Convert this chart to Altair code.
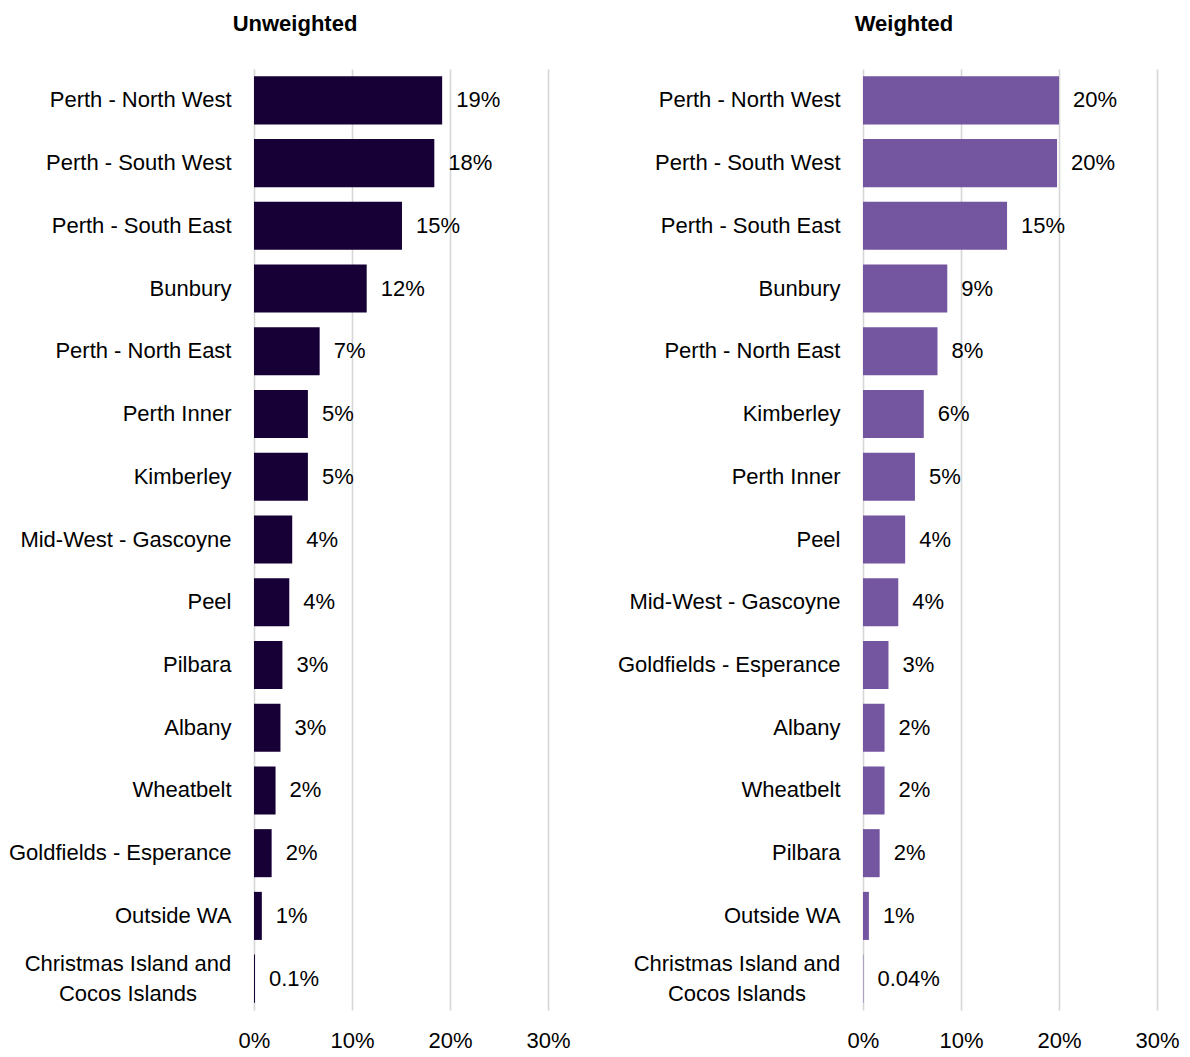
import altair as alt
import pandas as pd

# ---- data ----
unw_regions = ["Perth - North West", "Perth - South West", "Perth - South East", "Bunbury",
               "Perth - North East", "Perth Inner", "Kimberley", "Mid-West - Gascoyne", "Peel",
               "Pilbara", "Albany", "Wheatbelt", "Goldfields - Esperance", "Outside WA",
               "Christmas Island and|Cocos Islands"]
unw_values = [0.192, 0.184, 0.151, 0.115, 0.067, 0.055, 0.055, 0.039, 0.036, 0.029, 0.027,
              0.022, 0.018, 0.008, 0.001]
unw_labels = ["19%", "18%", "15%", "12%", "7%", "5%", "5%", "4%", "4%", "3%", "3%", "2%", "2%",
              "1%", "0.1%"]

wtd_regions = ["Perth - North West", "Perth - South West", "Perth - South East", "Bunbury",
               "Perth - North East", "Kimberley", "Perth Inner", "Peel", "Mid-West - Gascoyne",
               "Goldfields - Esperance", "Albany", "Wheatbelt", "Pilbara", "Outside WA",
               "Christmas Island and|Cocos Islands"]
wtd_values = [0.200, 0.198, 0.147, 0.086, 0.076, 0.062, 0.053, 0.043, 0.036, 0.026, 0.022,
              0.022, 0.017, 0.006, 0.0004]
wtd_labels = ["20%", "20%", "15%", "9%", "8%", "6%", "5%", "4%", "4%", "3%", "2%", "2%", "2%",
              "1%", "0.04%"]

x_ticks = [0, 0.1, 0.2, 0.3]

FONT = "Liberation Sans, Arial"
FS = 22


def panel(title, regions, values, labels, color):
    df = pd.DataFrame({"region": regions, "value": values, "label": labels})
    y = alt.Y("region:N", sort=regions, title=None,
              scale=alt.Scale(paddingInner=0.234, paddingOuter=0.117),
              axis=alt.Axis(domain=False, ticks=False, labelFontSize=FS, labelFont=FONT,
                            labelColor="#000000", labelPadding=23, labelLimit=400,
                            labelExpr="indexof(datum.label, '|') >= 0 ? '' : datum.label"))
    x = alt.X("value:Q", title=None,
              scale=alt.Scale(domain=[0, 0.3], nice=False, zero=True),
              axis=alt.Axis(values=x_ticks, format=".0%", grid=True, gridColor="#d6d6d6",
                            gridWidth=1.6, domain=False, ticks=False, labelFontSize=FS,
                            labelFont=FONT, labelColor="#000000", labelPadding=20,
                            labelFlush=False, labelOverlap=False))
    base = alt.Chart(df)
    ysort = alt.Y("region:N", sort=regions)
    bars = base.mark_bar(color=color).encode(x=x, y=y)
    text = base.mark_text(align="left", baseline="middle", dx=14, fontSize=FS, font=FONT,
                          color="#000000").encode(x="value:Q", y=ysort, text="label:N")
    wrapped = base.transform_filter("indexof(datum.region, '|') >= 0").mark_text(
        align="center", baseline="middle", lineBreak="|", lineHeight=30, dy=-15,
        fontSize=FS, font=FONT, color="#000000"
    ).encode(x=alt.value(-126), y=ysort, text="region:N")
    return (bars + text + wrapped).properties(
        width=294, height=941,
        title=alt.TitleParams(title, fontSize=FS, font=FONT, fontWeight="bold", color="#000000",
                              anchor="middle", frame="group", dx=-106, offset=33))


left = panel("Unweighted", unw_regions, unw_values, unw_labels, "#160036")
right = panel("Weighted", wtd_regions, wtd_values, wtd_labels, "#74559F")

chart = alt.hconcat(left, right, spacing=46).properties(
    padding={"left": 0, "top": 5, "right": 0, "bottom": 0}
).configure_view(stroke=None)

chart.save("out.html", embed_options={"renderer": "svg", "actions": False})
